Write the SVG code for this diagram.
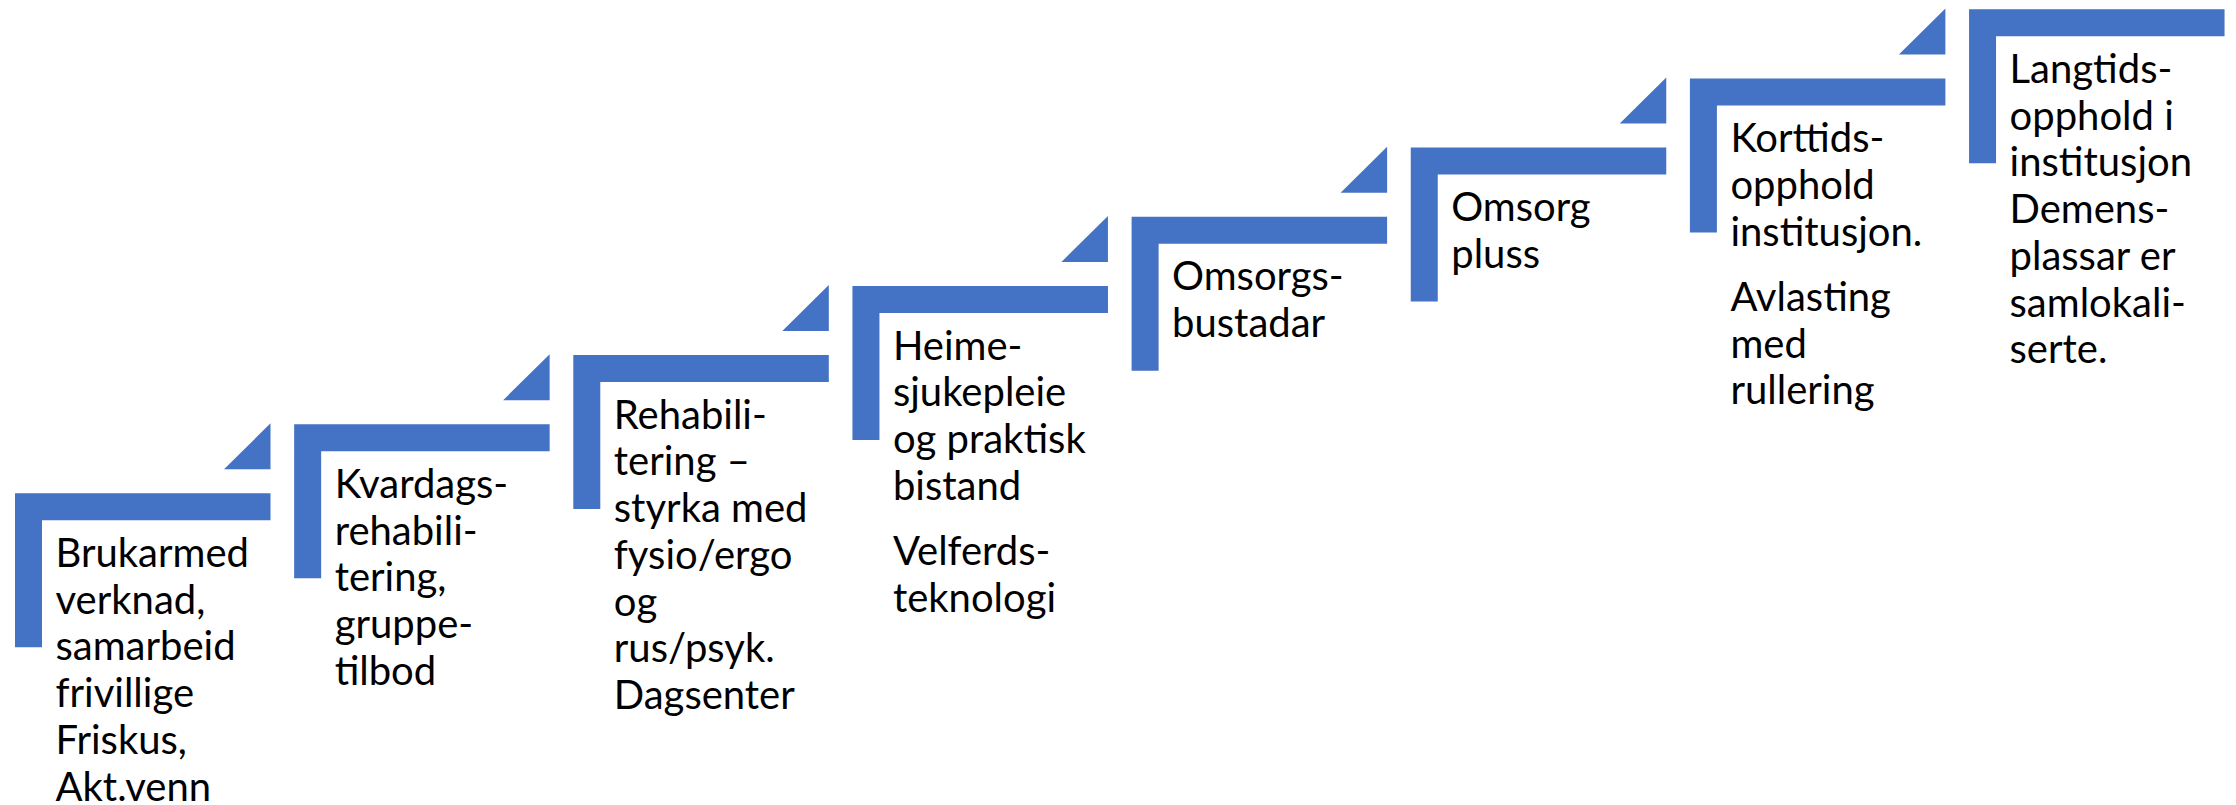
<svg xmlns="http://www.w3.org/2000/svg" width="2236" height="805" viewBox="0 0 2236 805">
<style>
.step{fill:#4472C4}
.lbl{font-family:Lato,"Liberation Sans",sans-serif;font-size:40px;fill:#000}
</style>
<rect width="2236" height="805" fill="#fff"/>
<g id="step1">
<path class="step" d="M15,493.3 h255.5 v27 h-228.5 v127 h-27 z"/>
<path class="step" d="M224,469.3 L270.5,423.3 L270.5,469.3 z"/>
<text class="lbl" x="55.5" y="567"><tspan x="55.5">Brukarmed</tspan><tspan x="55.5" dy="46.7">verknad,</tspan><tspan x="55.5" dy="46.7">samarbeid</tspan><tspan x="55.5" dy="46.7">frivillige</tspan><tspan x="55.5" dy="46.7">Friskus,</tspan><tspan x="55.5" dy="46.7">Akt.venn</tspan></text>
</g>
<g id="step2">
<path class="step" d="M294.15,424.16 h255.5 v27 h-228.5 v127 h-27 z"/>
<path class="step" d="M503.15,400.16 L549.65,354.16 L549.65,400.16 z"/>
<text class="lbl" x="334.65" y="497.9"><tspan x="334.65">Kvardags-</tspan><tspan x="334.65" dy="46.7">rehabili-</tspan><tspan x="334.65" dy="46.7">tering,</tspan><tspan x="334.65" dy="46.7">gruppe-</tspan><tspan x="334.65" dy="46.7">tilbod</tspan></text>
</g>
<g id="step3">
<path class="step" d="M573.3,355.02 h255.5 v27 h-228.5 v127 h-27 z"/>
<path class="step" d="M782.3,331.02 L828.8,285.02 L828.8,331.02 z"/>
<text class="lbl" x="613.8" y="428.7"><tspan x="613.8">Rehabili-</tspan><tspan x="613.8" dy="46.7">tering –</tspan><tspan x="613.8" dy="46.7">styrka med</tspan><tspan x="613.8" dy="46.7">fysio/ergo</tspan><tspan x="613.8" dy="46.7">og</tspan><tspan x="613.8" dy="46.7">rus/psyk.</tspan><tspan x="613.8" dy="46.7">Dagsenter</tspan></text>
</g>
<g id="step4">
<path class="step" d="M852.45,285.88 h255.5 v27 h-228.5 v127 h-27 z"/>
<path class="step" d="M1061.45,261.88 L1107.95,215.88 L1107.95,261.88 z"/>
<text class="lbl" x="892.95" y="359.6"><tspan x="892.95">Heime-</tspan><tspan x="892.95" dy="46.7">sjukepleie</tspan><tspan x="892.95" dy="46.7">og praktisk</tspan><tspan x="892.95" dy="46.7">bistand</tspan><tspan x="892.95" dy="65.2">Velferds-</tspan><tspan x="892.95" dy="46.7">teknologi</tspan></text>
</g>
<g id="step5">
<path class="step" d="M1131.6,216.74 h255.5 v27 h-228.5 v127 h-27 z"/>
<path class="step" d="M1340.6,192.74 L1387.1,146.74 L1387.1,192.74 z"/>
<text class="lbl" x="1172.1" y="290.4"><tspan x="1172.1">Omsorgs-</tspan><tspan x="1172.1" dy="46.7">bustadar</tspan></text>
</g>
<g id="step6">
<path class="step" d="M1410.75,147.6 h255.5 v27 h-228.5 v127 h-27 z"/>
<path class="step" d="M1619.75,123.6 L1666.25,77.6 L1666.25,123.6 z"/>
<text class="lbl" x="1451.25" y="221.3"><tspan x="1451.25">Omsorg</tspan><tspan x="1451.25" dy="46.7">pluss</tspan></text>
</g>
<g id="step7">
<path class="step" d="M1689.9,78.46 h255.5 v27 h-228.5 v127 h-27 z"/>
<path class="step" d="M1898.9,54.46 L1945.4,8.46 L1945.4,54.46 z"/>
<text class="lbl" x="1730.4" y="152.2"><tspan x="1730.4">Korttids-</tspan><tspan x="1730.4" dy="46.7">opphold</tspan><tspan x="1730.4" dy="46.7">institusjon.</tspan><tspan x="1730.4" dy="65.2">Avlasting</tspan><tspan x="1730.4" dy="46.7">med</tspan><tspan x="1730.4" dy="46.7">rullering</tspan></text>
</g>
<g id="step8">
<path class="step" d="M1969.05,9.32 h255.5 v27 h-228.5 v127 h-27 z"/>
<text class="lbl" x="2009.55" y="83"><tspan x="2009.55">Langtids-</tspan><tspan x="2009.55" dy="46.7">opphold i</tspan><tspan x="2009.55" dy="46.7">institusjon</tspan><tspan x="2009.55" dy="46.7">Demens-</tspan><tspan x="2009.55" dy="46.7">plassar er</tspan><tspan x="2009.55" dy="46.7">samlokali-</tspan><tspan x="2009.55" dy="46.7">serte.</tspan></text>
</g>
<g id="connectors"></g>
</svg>
